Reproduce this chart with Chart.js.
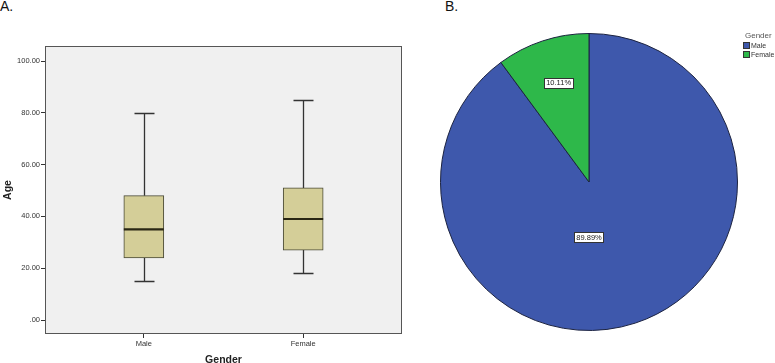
<!DOCTYPE html>
<html>
<head>
<meta charset="utf-8">
<script src="https://cdn.jsdelivr.net/npm/chart.js@4.4.1/dist/chart.umd.min.js"></script>
<style>
  html, body { margin:0; padding:0; background:#fff; }
  body { width:775px; height:363px; position:relative; overflow:hidden; font-family:"Liberation Sans", Arial, sans-serif; }
  #wrapA { position:absolute; left:0; top:0; width:410px; height:363px; }
  #wrapB { position:absolute; left:410px; top:0; width:365px; height:363px; }
  .panel { position:absolute; font-size:14px; color:#111; }
  #legend { position:absolute; left:743px; top:31px; font-size:7px; color:#333; line-height:9px; }
  #legend .ttl { font-size:8px; color:#555; margin-left:2px; margin-bottom:1px; }
  #legend .row { display:flex; align-items:center; white-space:nowrap; }
  #legend .sw { width:5px; height:5px; border:1px solid #333; margin-right:1px; }
</style>
</head>
<body>
<div class="panel" style="left:0px;top:-2px;">A.</div>
<div class="panel" style="left:445px;top:-2px;">B.</div>
<div id="wrapA"><canvas id="boxChart" width="410" height="363"></canvas></div>
<div id="wrapB"><canvas id="pieChart" width="365" height="363"></canvas></div>
<div id="legend"></div>
<script>
// ---------- Data ----------
const genders = ['Male', 'Female'];
const ageMin = [15, 18];
const ageQ1 = [24, 27];
const ageMedian = [35, 39];
const ageQ3 = [48, 51];
const ageMax = [80, 85];
const yTickValues = [0, 20, 40, 60, 80, 100];
const yTickLabels = ['.00', '20.00', '40.00', '60.00', '80.00', '100.00'];
const genderPercent = [89.89, 10.11];
const percentLabels = ['89.89%', '10.11%'];

// ---------- Styles ----------
const boxFill = '#D4CE98';
const boxBorder = '#4a4a36';
const pieColors = ['#3E58AC', '#2EB84A'];

// ---------- Box plot (chart A) ----------
const boxPlugin = {
  id: 'boxExtras',
  beforeDraw(chart) {
    const a = chart.chartArea, ctx = chart.ctx;
    ctx.save();
    ctx.fillStyle = '#F0F0F0';
    ctx.fillRect(a.left, a.top, a.right - a.left, a.bottom - a.top);
    ctx.restore();
  },
  beforeDatasetsDraw(chart) {
    const ctx = chart.ctx, xs = chart.scales.x, ys = chart.scales.y;
    ctx.save();
    ctx.strokeStyle = '#333';
    ctx.lineWidth = 1.3;
    genders.forEach((g, i) => {
      const cx = Math.round(xs.getPixelForValue(i)) + 0.5;
      const capHalf = 10;
      ctx.beginPath();
      ctx.moveTo(cx, ys.getPixelForValue(ageMin[i]));
      ctx.lineTo(cx, ys.getPixelForValue(ageQ1[i]));
      ctx.moveTo(cx, ys.getPixelForValue(ageQ3[i]));
      ctx.lineTo(cx, ys.getPixelForValue(ageMax[i]));
      [ageMin[i], ageMax[i]].forEach(v => {
        const py = Math.round(ys.getPixelForValue(v)) + 0.5;
        ctx.moveTo(cx - capHalf, py);
        ctx.lineTo(cx + capHalf, py);
      });
      ctx.stroke();
    });
    ctx.restore();
  },
  afterDatasetsDraw(chart) {
    const ctx = chart.ctx, xs = chart.scales.x, ys = chart.scales.y, a = chart.chartArea;
    ctx.save();
    ctx.strokeStyle = '#2a2714';
    ctx.lineWidth = 2.2;
    genders.forEach((g, i) => {
      const cx = xs.getPixelForValue(i);
      const py = ys.getPixelForValue(ageMedian[i]);
      ctx.beginPath();
      ctx.moveTo(cx - 20, py);
      ctx.lineTo(cx + 20, py);
      ctx.stroke();
    });
    ctx.strokeStyle = '#555';
    ctx.lineWidth = 1;
    ctx.strokeRect(a.left + 0.5, a.top + 0.5, a.right - a.left - 1, a.bottom - a.top - 1);
    ctx.restore();
  }
};

new Chart(document.getElementById('boxChart'), {
  type: 'bar',
  data: {
    datasets: [{
      data: genders.map((g, i) => ({ x: i, y: [ageQ1[i], ageQ3[i]] })),
      backgroundColor: boxFill,
      borderColor: boxBorder,
      borderWidth: 1,
      borderSkipped: false,
      barThickness: 40
    }]
  },
  options: {
    responsive: false,
    animation: false,
    events: [],
    layout: { padding: { left: 0, top: 46, right: 8, bottom: 0 } },
    plugins: { legend: { display: false }, tooltip: { enabled: false } },
    scales: {
      x: {
        type: 'linear',
        offset: false,
        min: -0.62, max: 1.62,
        afterBuildTicks: s => { s.ticks = genders.map((g, i) => ({ value: i })); },
        afterFit: s => { s.height = 29; },
        ticks: {
          callback: v => genders[v],
          color: '#333', font: { size: 7.5, family: 'Liberation Sans' }, padding: 1, maxRotation: 0
        },
        grid: { display: true, offset: false, drawOnChartArea: false, tickLength: 4, color: '#333' },
        border: { display: false },
        title: { display: true, text: 'Gender', font: { size: 10.5, weight: 'bold', family: 'Liberation Sans' }, color: '#222', padding: { top: 0, bottom: -3 } }
      },
      y: {
        type: 'linear',
        min: -5.4, max: 105.8,
        afterBuildTicks: s => { s.ticks = yTickValues.map(v => ({ value: v })); },
        afterFit: s => { s.width = 45; },
        ticks: {
          callback: v => yTickLabels[yTickValues.indexOf(v)],
          color: '#333', font: { size: 7.5, family: 'Liberation Sans' }, padding: 1
        },
        grid: { display: true, drawOnChartArea: false, tickLength: 4, color: '#333' },
        border: { display: false },
        title: { display: true, text: 'Age', font: { size: 10.5, weight: 'bold', family: 'Liberation Sans' }, color: '#222', padding: { top: 2, bottom: 0 } }
      }
    }
  },
  plugins: [boxPlugin]
});

// ---------- Pie (chart B) ----------
const labelPlacement = [ { angle: 180, r: 0.37 }, { angle: -17, r: 0.70 } ];
const pieLabelPlugin = {
  id: 'pieLabels',
  afterDatasetsDraw(chart) {
    const ctx = chart.ctx;
    const arc = chart.getDatasetMeta(0).data[0];
    const cx = arc.x, cy = arc.y, R = arc.outerRadius;
    ctx.save();
    ctx.font = '7.5px "Liberation Sans"';
    ctx.textAlign = 'center';
    ctx.textBaseline = 'middle';
    percentLabels.forEach((t, i) => {
      const p = labelPlacement[i];
      const ang = p.angle * Math.PI / 180;
      const x = cx + Math.sin(ang) * R * p.r;
      const y = cy - Math.cos(ang) * R * p.r;
      const w = ctx.measureText(t).width + 4, h = 10;
      ctx.fillStyle = '#fff';
      ctx.fillRect(Math.round(x - w / 2) + 0.5, Math.round(y - h / 2) + 0.5, Math.round(w), h);
      ctx.strokeStyle = '#333';
      ctx.lineWidth = 1;
      ctx.strokeRect(Math.round(x - w / 2) + 0.5, Math.round(y - h / 2) + 0.5, Math.round(w), h);
      ctx.fillStyle = '#222';
      ctx.fillText(t, x, y + 0.5);
    });
    ctx.restore();
  }
};

new Chart(document.getElementById('pieChart'), {
  type: 'pie',
  data: {
    labels: genders,
    datasets: [{
      data: genderPercent,
      backgroundColor: pieColors,
      borderColor: '#1c2340',
      borderWidth: 1
    }]
  },
  options: {
    responsive: false,
    animation: false,
    events: [],
    layout: { padding: { left: 30, right: 37, top: 33, bottom: 32 } },
    plugins: { legend: { display: false }, tooltip: { enabled: false } }
  },
  plugins: [pieLabelPlugin]
});

// HTML legend
const lg = document.getElementById('legend');
lg.innerHTML = '<div class="ttl">Gender</div>' + genders.map((g, i) =>
  '<div class="row"><span class="sw" style="background:' + pieColors[i] + '"></span>' + g + '</div>').join('');
</script>
</body>
</html>
